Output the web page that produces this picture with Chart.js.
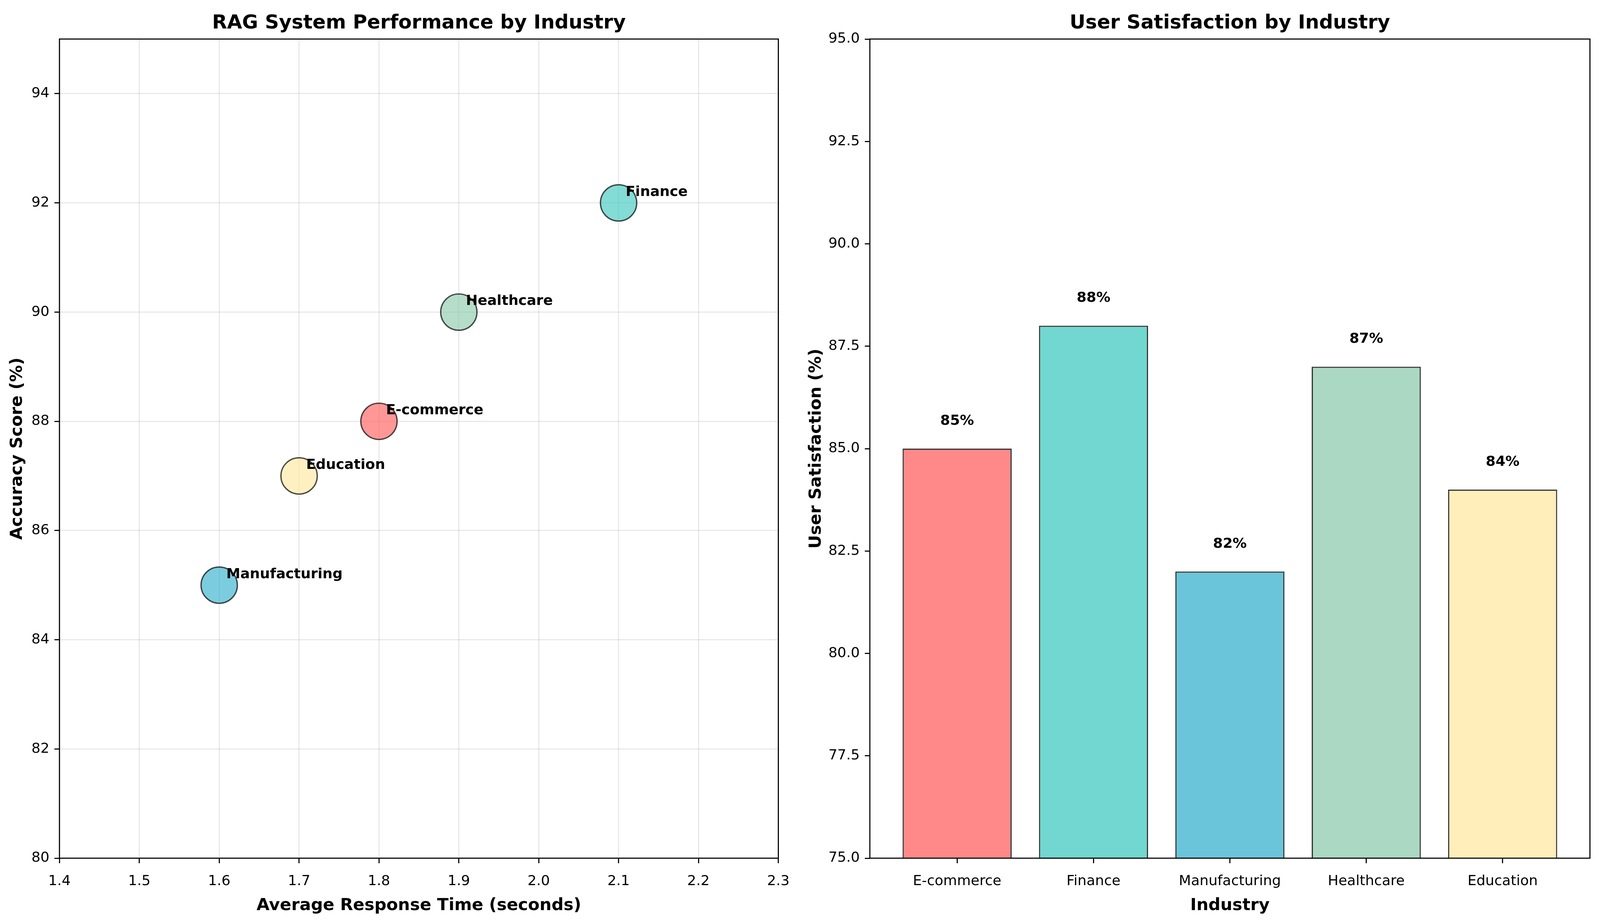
<!DOCTYPE html>
<html>
<head>
<meta charset="utf-8">
<script src="https://cdn.jsdelivr.net/npm/chart.js@4.4.0/dist/chart.umd.min.js"></script>
<style>
  html, body { margin: 0; padding: 0; background: #fff; overflow: hidden; }
  canvas { position: absolute; top: 0; }
</style>
</head>
<body>
<canvas id="scatterChart"></canvas>
<canvas id="barChart"></canvas>
<script>
// Data
const industries = ["E-commerce", "Finance", "Manufacturing", "Healthcare", "Education"];
const responseTime = [1.8, 2.1, 1.6, 1.9, 1.7];
const accuracy = [88, 92, 85, 90, 87];
const satisfaction = [85, 88, 82, 87, 84];
const colors = ["#FF6B6B", "#4ECDC4", "#45B7D1", "#96CEB4", "#FFEAA7"];

const timeTicks = [1.4, 1.5, 1.6, 1.7, 1.8, 1.9, 2.0, 2.1, 2.2, 2.3];
const accuracyTicks = [80, 82, 84, 86, 88, 90, 92, 94];
const satisfactionTicks = [75, 77.5, 80, 82.5, 85, 87.5, 90, 92.5, 95];

// the window may be narrower than 4764x2364: positions follow the window,
// text and strokes scale with the width so nothing gets squeezed
const W = window.innerWidth;
const H = window.innerHeight;
const kx = W / 4764;
const ky = H / 2364;
const s = Math.min(kx, ky);

const leftW = Math.round(2380 * kx);
const scatterCanvas = document.getElementById("scatterChart");
const barCanvas = document.getElementById("barChart");
scatterCanvas.width = leftW;
scatterCanvas.height = H;
scatterCanvas.style.left = "0px";
barCanvas.width = W - leftW;
barCanvas.height = H;
barCanvas.style.left = leftW + "px";

Chart.defaults.font.family = "'DejaVu Sans', sans-serif";
Chart.defaults.color = "#000";

function withAlpha(hex, a) {
  const n = parseInt(hex.slice(1), 16);
  return `rgba(${(n >> 16) & 255}, ${(n >> 8) & 255}, ${n & 255}, ${a})`;
}

function setTicks(values) {
  return function (scale) {
    scale.ticks = values.map((v) => ({ value: v }));
  };
}

const tickSize = 42 * s;
const axisTitleSize = 50 * s;
const titleSize = 58 * s;
const lineW = 3.3 * s;
const tickLen = 15 * s;

// title box fills the 100px band above the plot, baseline near its bottom
const titleMid = 75 * ky - 0.297 * titleSize;
const titlePadTop = titleMid - 0.6 * titleSize;
const titlePadBottom = 100 * ky - titlePadTop - 1.2 * titleSize;
const xAxisH = 166 * ky;
const xTickPad = 70 * ky - 0.297 * tickSize - tickLen - 0.6 * tickSize;
const xTitlePad = 31 * ky + 0.297 * axisTitleSize - 0.6 * axisTitleSize;

// box around the plot area (all four spines)
const framePlugin = {
  id: "frame",
  afterDraw(chart) {
    const { ctx, chartArea } = chart;
    ctx.save();
    ctx.strokeStyle = "#000";
    ctx.lineWidth = lineW;
    ctx.strokeRect(chartArea.left, chartArea.top, chartArea.right - chartArea.left, chartArea.bottom - chartArea.top);
    ctx.restore();
  },
};

const pointLabels = {
  id: "pointLabels",
  afterDatasetsDraw(chart) {
    const { ctx } = chart;
    const xs = chart.scales.x;
    const ys = chart.scales.y;
    const off = 21 * s;
    ctx.save();
    ctx.font = `bold ${tickSize}px 'DejaVu Sans'`;
    ctx.fillStyle = "#000";
    ctx.textAlign = "left";
    ctx.textBaseline = "alphabetic";
    industries.forEach((name, i) => {
      ctx.fillText(name, xs.getPixelForValue(responseTime[i]) + off, ys.getPixelForValue(accuracy[i]) - off);
    });
    ctx.restore();
  },
};

const barLabels = {
  id: "barLabels",
  afterDatasetsDraw(chart) {
    const { ctx } = chart;
    const xs = chart.scales.x;
    const ys = chart.scales.y;
    ctx.save();
    ctx.font = `bold ${tickSize}px 'DejaVu Sans'`;
    ctx.fillStyle = "#000";
    ctx.textAlign = "center";
    ctx.textBaseline = "bottom";
    satisfaction.forEach((v, i) => {
      ctx.fillText(v + "%", xs.getPixelForValue(i), ys.getPixelForValue(v + 0.5));
    });
    ctx.restore();
  },
};

const tickFont = { size: tickSize };
const axisTitleFont = { size: axisTitleSize, weight: "bold" };
const titleFont = { size: titleSize, weight: "bold" };

function titleOpts(text) {
  return {
    display: true,
    text: text,
    font: titleFont,
    fullSize: false,
    padding: { top: titlePadTop, bottom: titlePadBottom },
  };
}

// Left: scatter
new Chart(scatterCanvas, {
  type: "scatter",
  data: {
    datasets: [
      {
        data: industries.map((_, i) => ({ x: responseTime[i], y: accuracy[i] })),
        backgroundColor: colors.map((c) => withAlpha(c, 0.7)),
        borderColor: "rgba(0, 0, 0, 0.7)",
        borderWidth: 4 * s,
        pointRadius: 54 * s,
        pointHoverRadius: 54 * s,
      },
    ],
  },
  options: {
    responsive: false,
    devicePixelRatio: 1,
    animation: false,
    layout: { padding: { left: 0, right: leftW - 2321 * kx, top: 0, bottom: 0 } },
    plugins: {
      legend: { display: false },
      tooltip: { enabled: false },
      title: titleOpts("RAG System Performance by Industry"),
    },
    scales: {
      x: {
        type: "linear",
        min: 1.4,
        max: 2.3,
        afterBuildTicks: setTicks(timeTicks),
        afterFit: (sc) => { sc.height = xAxisH; },
        border: { display: false },
        grid: { color: "rgba(176,176,176,0.3)", lineWidth: lineW, tickColor: "#000", tickWidth: lineW, tickLength: tickLen },
        ticks: { font: tickFont, padding: xTickPad, maxRotation: 0, callback: (v) => v.toFixed(1) },
        title: { display: true, text: "Average Response Time (seconds)", font: axisTitleFont, padding: { top: 0, bottom: xTitlePad } },
      },
      y: {
        type: "linear",
        min: 80,
        max: 95,
        afterBuildTicks: setTicks(accuracyTicks),
        afterFit: (sc) => { sc.width = 177 * kx; },
        border: { display: false },
        grid: { color: "rgba(176,176,176,0.3)", lineWidth: lineW, tickColor: "#000", tickWidth: lineW, tickLength: tickLen },
        ticks: { font: tickFont, padding: 15 * s, callback: (v) => String(v) },
        title: { display: true, text: "Accuracy Score (%)", font: axisTitleFont, padding: { top: 52 * kx - 0.6 * axisTitleSize, bottom: 0 } },
      },
    },
  },
  plugins: [pointLabels, framePlugin],
});

// Right: bars
new Chart(barCanvas, {
  type: "bar",
  data: {
    datasets: [
      {
        data: industries.map((_, i) => ({ x: i, y: satisfaction[i] })),
        backgroundColor: colors.map((c) => withAlpha(c, 0.8)),
        borderColor: "rgba(0, 0, 0, 0.8)",
        borderWidth: 3.5 * s,
        borderSkipped: false,
        categoryPercentage: 1,
        barPercentage: 0.8,
      },
    ],
  },
  options: {
    responsive: false,
    devicePixelRatio: 1,
    animation: false,
    layout: { padding: { left: 0, right: W - 4734 * kx, top: 0, bottom: 0 } },
    plugins: {
      legend: { display: false },
      tooltip: { enabled: false },
      title: titleOpts("User Satisfaction by Industry"),
    },
    scales: {
      x: {
        type: "linear",
        min: -0.64,
        max: 4.64,
        offset: false,
        afterBuildTicks: setTicks(industries.map((_, i) => i)),
        afterFit: (sc) => { sc.height = xAxisH; },
        border: { display: false },
        grid: { offset: false, drawOnChartArea: false, tickColor: "#000", tickWidth: lineW, tickLength: tickLen },
        ticks: { font: tickFont, padding: xTickPad, maxRotation: 0, autoSkip: false, callback: (v) => industries[v] },
        title: { display: true, text: "Industry", font: axisTitleFont, padding: { top: 0, bottom: xTitlePad } },
      },
      y: {
        type: "linear",
        min: 75,
        max: 95,
        afterBuildTicks: setTicks(satisfactionTicks),
        afterFit: (sc) => { sc.width = 2590 * kx - leftW; },
        border: { display: false },
        grid: { drawOnChartArea: false, tickColor: "#000", tickWidth: lineW, tickLength: tickLen },
        ticks: { font: tickFont, padding: 15 * s, callback: (v) => v.toFixed(1) },
        title: { display: true, text: "User Satisfaction (%)", font: axisTitleFont, padding: { top: 2431 * kx - leftW - 0.6 * axisTitleSize, bottom: 0 } },
      },
    },
  },
  plugins: [barLabels, framePlugin],
});
</script>
</body>
</html>
